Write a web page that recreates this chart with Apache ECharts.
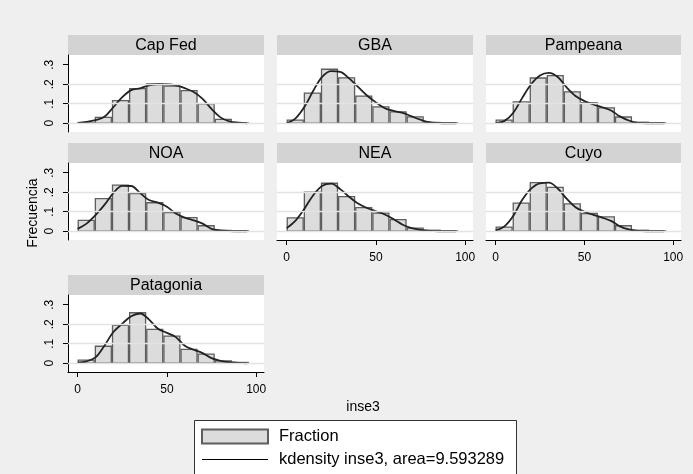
<!DOCTYPE html>
<html>
<head>
<meta charset="utf-8">
<script src="https://cdn.jsdelivr.net/npm/echarts@6/dist/echarts.min.js"></script>
<style>
	html,body{margin:0;padding:0;background:#efefef;}
	#chart{width:693px;height:474px;}
</style>
</head>
<body>
<div id="chart"></div>
<script>
// region names, bin edges (inse3) and per-region fractions
var regions = ['Cap Fed','GBA','Pampeana','NOA','NEA','Cuyo','Patagonia']
var binEdges = [0,9.6,19.2,28.8,38.4,48,57.6,67.2,76.8,86.4,96]

var fracCapFed = [0.002,0.03,0.116,0.177,0.203,0.191,0.167,0.10,0.02,0.001]
var fracGBA = [0.016,0.154,0.277,0.233,0.139,0.084,0.058,0.033,0.004,0.002]
var fracPampeana = [0.016,0.11,0.232,0.244,0.161,0.105,0.079,0.032,0.005,0.002]
var fracNOA = [0.056,0.167,0.237,0.193,0.146,0.096,0.07,0.028,0.004,0.002]
var fracNEA = [0.068,0.2,0.246,0.177,0.121,0.093,0.06,0.016,0.005,0.002]
var fracCuyo = [0.021,0.144,0.249,0.225,0.14,0.091,0.074,0.028,0.005,0.002]
var fracPatagonia = [0.016,0.087,0.194,0.259,0.174,0.139,0.071,0.047,0.012,0.004]

// kdensity curve, read at x = 0,5,...,95
var kdeX = [0,5,10,15,20,25,30,35,40,45,50,55,60,65,70,75,80,85,90,95]
var kdeCapFed = [0.002,0.007,0.016,0.033,0.082,0.134,0.17,0.179,0.194,0.2,0.2,0.194,0.18,0.16,0.125,0.073,0.03,0.01,0.003,0]
var kdeGBA = [0,0.025,0.084,0.168,0.239,0.267,0.263,0.23,0.186,0.142,0.107,0.077,0.063,0.053,0.035,0.018,0.005,0.001,0,0]
var kdePampeana = [0,0.012,0.054,0.13,0.2,0.245,0.258,0.237,0.184,0.14,0.114,0.096,0.082,0.065,0.035,0.014,0.002,0,0,0]
var kdeNOA = [0.012,0.039,0.082,0.135,0.196,0.233,0.232,0.196,0.16,0.147,0.126,0.091,0.07,0.056,0.039,0.012,0.004,0.001,0,0]
var kdeNEA = [0.016,0.054,0.116,0.186,0.233,0.244,0.216,0.177,0.142,0.119,0.102,0.086,0.061,0.033,0.016,0.007,0.002,0,0,0]
var kdeCuyo = [0.004,0.025,0.079,0.161,0.219,0.246,0.249,0.219,0.167,0.123,0.1,0.084,0.07,0.053,0.025,0.009,0.002,0,0,0]
var kdePatagonia = [0.003,0.01,0.03,0.09,0.16,0.203,0.241,0.255,0.224,0.177,0.156,0.134,0.09,0.069,0.052,0.026,0.012,0.005,0.002,0]

var xTicks = [0,50,100]
var yTicks = [0,0.1,0.2,0.3]
var gridValues = [0,0.1,0.2]

var fracs = [fracCapFed,fracGBA,fracPampeana,fracNOA,fracNEA,fracCuyo,fracPatagonia]
var kdes = [kdeCapFed,kdeGBA,kdePampeana,kdeNOA,kdeNEA,kdeCuyo,kdePatagonia]

var FONT = "'Liberation Sans', Arial, sans-serif"
var colLeft = [68,277,486]
var colWidth = [196,196,195]
var rowTop = [55,163,295]
var plotH = 77
var headH = 20
var showX = [false,false,false,false,true,true,true]
var showY = [true,false,false,true,false,false,true]
var kdeName = 'kdensity inse3, area=9.593289'

var grids = [], xAxes = [], yAxes = [], series = [], graphics = []

for(var i = 0 ; i < regions.length ; i ++){
	var r = Math.floor(i / 3), c = i % 3
	grids.push({
		left:colLeft[c], top:rowTop[r], width:colWidth[c], height:plotH,
		show:true, backgroundColor:'#ffffff', borderWidth:0
	})
	xAxes.push({
		type:'value', gridIndex:i, min:-5.4, max:104.4,
		axisLine:{show:showX[i], onZero:false, lineStyle:{color:'#000', width:1}},
		axisTick:{show:showX[i], length:5, customValues:xTicks, lineStyle:{color:'#000'}},
		axisLabel:{show:showX[i], customValues:xTicks, margin:12, color:'#000', fontSize:12, fontFamily:FONT},
		splitLine:{show:false}
	})
	yAxes.push({
		type:'value', gridIndex:i, min:-0.045, max:0.35,
		axisLine:{show:showY[i], onZero:false, lineStyle:{color:'#000', width:1}},
		axisTick:{show:showY[i], length:5, customValues:yTicks, lineStyle:{color:'#000'}},
		axisLabel:{
			show:showY[i], customValues:yTicks, rotate:90, margin:12,
			color:'#000', fontSize:12, fontFamily:FONT,
			formatter:function(v){ return v === 0 ? '0' : String(v).replace(/^0/,'') }
		},
		splitLine:{show:false}
	})
	// light grid lines behind the bars
	series.push({
		type:'line', xAxisIndex:i, yAxisIndex:i, data:[], z:1, silent:true,
		markLine:{
			silent:true, symbol:'none', label:{show:false},
			lineStyle:{color:'#e3e3e3', type:'solid', width:1.3},
			data:gridValues.map(function(v){ return {yAxis:v} })
		}
	})
	var bins = []
	for(var b = 0 ; b < fracs[i].length ; b ++){
		bins.push([binEdges[b], binEdges[b + 1], fracs[i][b]])
	}
	series.push({
		type:'custom', name:'Fraction', xAxisIndex:i, yAxisIndex:i, z:2,
		itemStyle:{color:'#dcdcdc', borderColor:'#5e5e5e', borderWidth:1.3},
		encode:{x:[0,1], y:2},
		data:bins,
		renderItem:function(params, api){
			var p0 = api.coord([api.value(0), api.value(2)])
			var p1 = api.coord([api.value(1), 0])
			return {
				type:'rect',
				shape:{x:p0[0] + 0.6, y:p0[1], width:p1[0] - p0[0] - 1.2, height:p1[1] - p0[1]},
				style:{fill:'#dcdcdc', stroke:'#5e5e5e', lineWidth:1.3}
			}
		}
	})
	series.push({
		type:'line', name:kdeName, xAxisIndex:i, yAxisIndex:i, z:3,
		smooth:0.35, showSymbol:false, symbol:'none',
		lineStyle:{color:'#222222', width:1.8},
		itemStyle:{color:'#222222'},
		data:kdeX.map(function(x, k){ return [x, kdes[i][k]] })
	})
	graphics.push({
		type:'rect', shape:{x:colLeft[c], y:rowTop[r] - headH, width:colWidth[c], height:headH},
		style:{fill:'#d3d3d3'}
	})
	graphics.push({
		type:'text', x:colLeft[c] + colWidth[c] / 2, y:rowTop[r] - headH / 2 + 1,
		style:{text:regions[i], fill:'#000', font:'16px ' + FONT, align:'center', verticalAlign:'middle'}
	})
}

graphics.push({
	type:'text', x:33, y:213, rotation:Math.PI / 2,
	style:{text:'Frecuencia', fill:'#000', font:'14px ' + FONT, align:'center', verticalAlign:'middle'}
})
graphics.push({
	type:'text', x:363, y:407,
	style:{text:'inse3', fill:'#000', font:'14px ' + FONT, align:'center', verticalAlign:'middle'}
})
graphics.push({
	type:'rect', z:-1, shape:{x:194.5, y:420.5, width:322, height:70},
	style:{fill:'#ffffff', stroke:'#333333', lineWidth:1}
})

var chart = echarts.init(document.getElementById('chart'))
chart.setOption({
	animation:false,
	backgroundColor:'#efefef',
	grid:grids,
	xAxis:xAxes,
	yAxis:yAxes,
	legend:{
		left:201, top:428, orient:'vertical', itemGap:6, padding:0,
		itemWidth:66, itemHeight:14,
		textStyle:{color:'#000', fontSize:16.5, fontFamily:FONT, padding:[0,0,0,6]},
		data:[
			{name:'Fraction', icon:'rect'},
			{name:kdeName, itemStyle:{opacity:0}, lineStyle:{width:1.2, color:'#000'}}
		]
	},
	graphic:graphics,
	series:series
})
</script>
</body>
</html>
